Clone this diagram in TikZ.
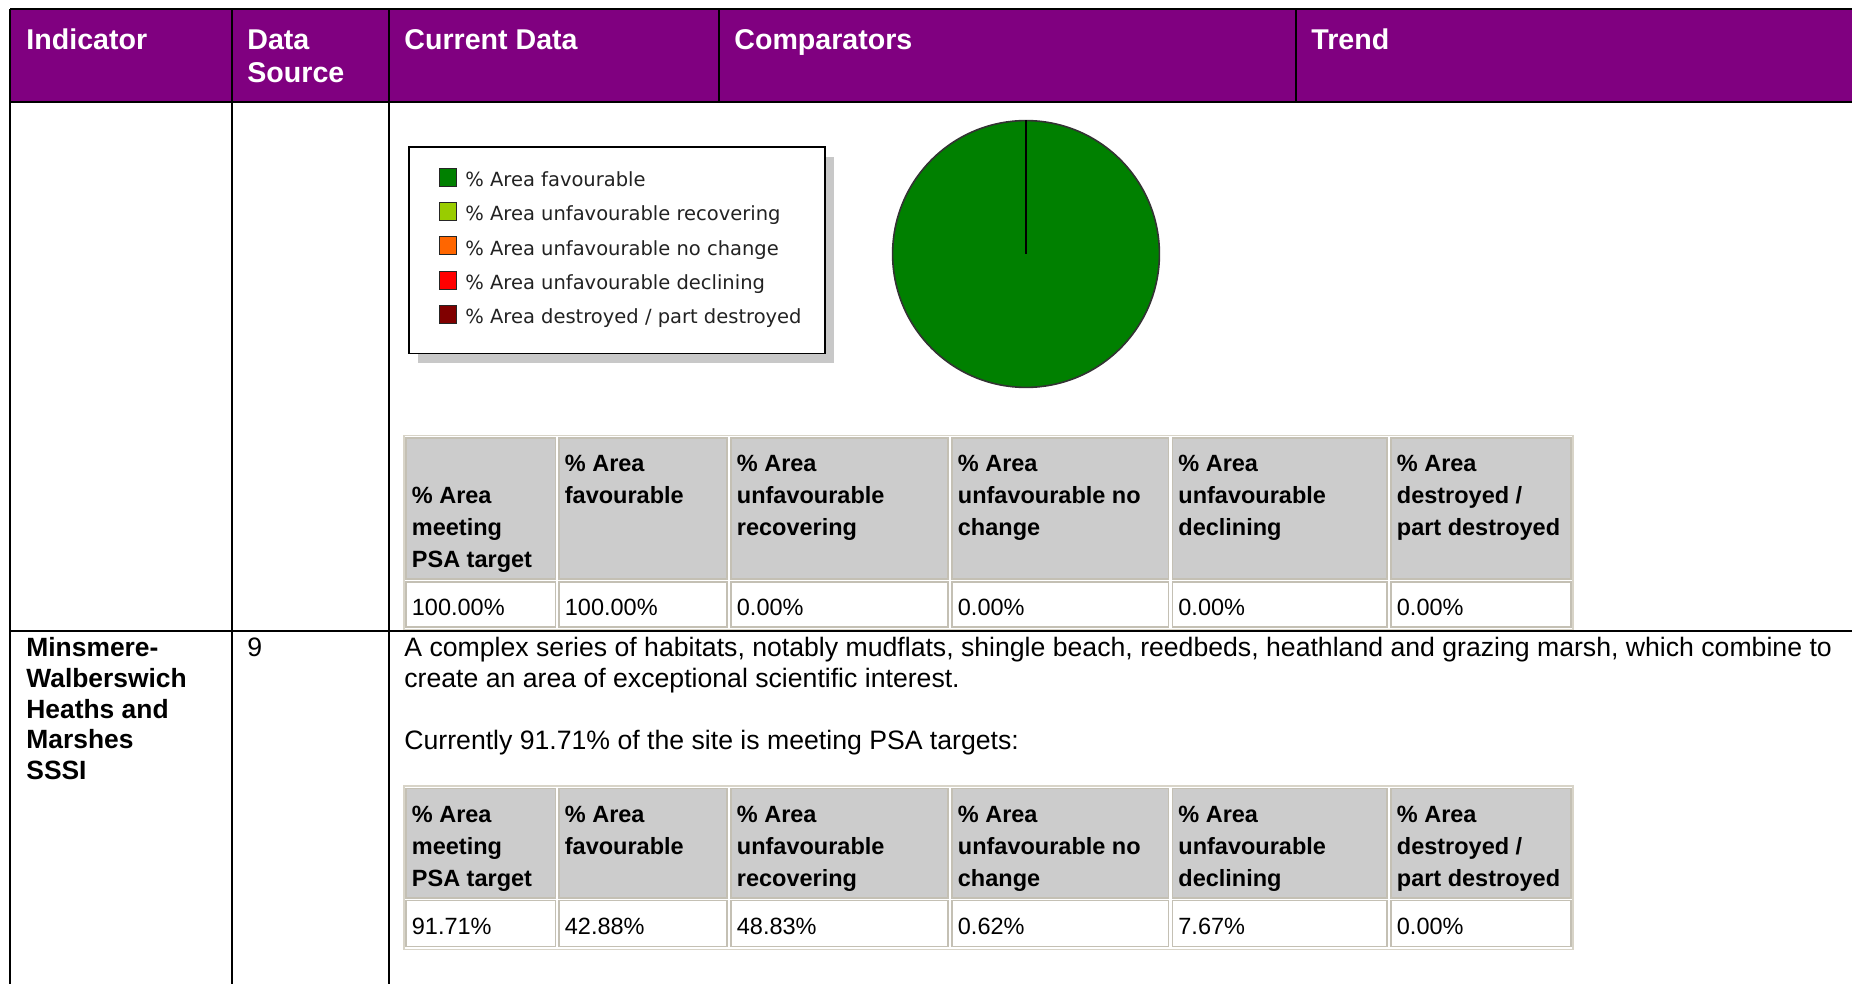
\documentclass[tikz,border=0pt]{standalone}
\usepackage{fontspec}
\setmainfont{Liberation Sans}
\newfontfamily\legfont{DejaVu Sans}
\definecolor{hdrpurple}{HTML}{800080}
\definecolor{cellgray}{HTML}{CCCCCC}
\definecolor{tabline}{HTML}{C4C0B4}
\definecolor{tabouter}{HTML}{D8D4C8}
\definecolor{shadowgray}{HTML}{C8C8C8}
\definecolor{lgA}{HTML}{008000}
\definecolor{lgB}{HTML}{99CC00}
\definecolor{lgC}{HTML}{FF6600}
\definecolor{lgD}{HTML}{FF0000}
\definecolor{lgE}{HTML}{800000}
\definecolor{legtext}{HTML}{222222}
\begin{document}
\begin{tikzpicture}[x=0.5pt,y=-0.5pt,
  hdrtext/.style={anchor=base west,inner sep=0pt,text=white,font=\fontsize{14.3}{16}\selectfont\bfseries},
  bodytext/.style={anchor=base west,inner sep=0pt,font=\fontsize{13.32}{15.4}\selectfont},
  bodybold/.style={anchor=base west,inner sep=0pt,font=\fontsize{13.2}{15.4}\selectfont\bfseries},
  tabhead/.style={anchor=base west,inner sep=0pt,font=\fontsize{11.75}{16}\selectfont\bfseries},
  tabdata/.style={anchor=base west,inner sep=0pt,font=\fontsize{11.75}{16}\selectfont},
  legtxt/.style={anchor=base west,inner sep=0pt,text=legtext,font=\legfont\fontsize{9.75}{12}\selectfont},
  legsq/.style={draw=black!85,line width=0.6pt,minimum width=8.5pt,minimum height=9pt,inner sep=0pt,anchor=south west},
  vrule/.style={draw=black,line width=0.9pt},
  thickrule/.style={draw=black,line width=1.4pt},
  hcell/.style={fill=cellgray,draw=tabline,line width=0.8pt},
  dcell/.style={fill=white,draw=tabline,line width=0.8pt},
  outer/.style={draw=tabouter,line width=0.8pt},
]
\useasboundingbox (0,0) rectangle (1852,984);

% ---------- header band ----------
\fill[hdrpurple] (10,9) rectangle (1852,102);
\draw[thickrule] (10,9) -- (1852,9);
\draw[line width=0.9pt] (10,102) -- (1208,102);
\draw[line width=1.4pt] (1208,102) -- (1852,102);
\draw[vrule] (10,9) -- (10,984);
\draw[vrule] (232,9) -- (232,984);
\draw[vrule] (389,9) -- (389,984);
\draw[line width=0.6pt] (719,9) -- (719,102);
\draw[line width=0.6pt] (1296,9) -- (1296,102);
\draw[line width=1.2pt] (10,631) -- (1852,631);

\node[hdrtext] (hind) at (26,50) {Indicator};
\node[hdrtext] (hds1) at (247,50) {Data};
\node[hdrtext] (hds2) at (247,82.3) {Source};
\node[hdrtext] (hcur) at (404,50) {Current Data};
\node[hdrtext] (hcmp) at (734,50) {Comparators};
\node[hdrtext] (htrd) at (1311,50) {Trend};

% ---------- legend ----------
\node[fill=shadowgray,minimum width=208pt,minimum height=103pt,inner sep=0pt,anchor=north west] (legshadow) at (418,156.5) {};
\node[draw=black,line width=0.8pt,fill=white,minimum width=208pt,minimum height=103pt,inner sep=0pt,anchor=north west] (legend) at (408,146.5) {};
\node[legsq,fill=lgA] (sqA) at (439,187) {};
\node[legsq,fill=lgB] (sqB) at (439,221.3) {};
\node[legsq,fill=lgC] (sqC) at (439,255.5) {};
\node[legsq,fill=lgD] (sqD) at (439,289.8) {};
\node[legsq,fill=lgE] (sqE) at (439,324) {};
\node[legtxt] (ltA) at (465,186.7) {\% Area favourable};
\node[legtxt] (ltB) at (465,221) {\% Area unfavourable recovering};
\node[legtxt] (ltC) at (465,255.2) {\% Area unfavourable no change};
\node[legtxt] (ltD) at (465,289.5) {\% Area unfavourable declining};
\node[legtxt] (ltE) at (465,323.7) {\% Area destroyed / part destroyed};

% ---------- pie ----------
\node[circle,draw=black!80,line width=0.8pt,fill=lgA,minimum size=133.4pt,inner sep=0pt] (pie) at (1026,254) {};
\draw[line width=0.8pt] (pie.center) -- (pie.north);

% ---------- table 1 ----------
\draw[outer] (404,435.5) rectangle (1573,629.5);
\foreach \a/\b in {406/555.5, 559/727, 731/948, 952/1168.5, 1172.5/1387, 1391/1571} {
  \draw[hcell] (\a,438) rectangle (\b,579);
  \draw[dcell] (\a,582) rectangle (\b,627);
}
\foreach \t [count=\i] in {\% Area, meeting, PSA target}
  \node[tabhead] (aA\i) at (411.5,{503.4+32*(\i-1)}) {\t};
\foreach \t [count=\i] in {\% Area, favourable}
  \node[tabhead] (aB\i) at (564.5,{471.4+32*(\i-1)}) {\t};
\foreach \t [count=\i] in {\% Area, unfavourable, recovering}
  \node[tabhead] (aC\i) at (736.5,{471.4+32*(\i-1)}) {\t};
\foreach \t [count=\i] in {\% Area, unfavourable no, change}
  \node[tabhead] (aD\i) at (957.5,{471.4+32*(\i-1)}) {\t};
\foreach \t [count=\i] in {\% Area, unfavourable, declining}
  \node[tabhead] (aE\i) at (1178,{471.4+32*(\i-1)}) {\t};
\foreach \t [count=\i] in {\% Area, destroyed /, part destroyed}
  \node[tabhead] (aF\i) at (1396.5,{471.4+32*(\i-1)}) {\t};
\node[tabdata] (avA) at (411.5,615.5) {100.00\%};
\node[tabdata] (avB) at (564.5,615.5) {100.00\%};
\node[tabdata] (avC) at (736.5,615.5) {0.00\%};
\node[tabdata] (avD) at (957.5,615.5) {0.00\%};
\node[tabdata] (avE) at (1178,615.5) {0.00\%};
\node[tabdata] (avF) at (1396.5,615.5) {0.00\%};

% ---------- row 2 ----------
\node[bodybold] (ind1) at (26,656.5) {Minsmere-};
\node[bodybold] (ind2) at (26,687.3) {Walberswich};
\node[bodybold] (ind3) at (26,718) {Heaths and};
\node[bodybold] (ind4) at (26,748.8) {Marshes};
\node[bodybold] (ind5) at (26,779.6) {SSSI};
\node[bodytext] (src) at (247,656.5) {9};
\node[bodytext] (par1) at (404,656.5) {A complex series of habitats, notably mudflats, shingle beach, reedbeds, heathland and grazing marsh, which combine to};
\node[bodytext] (par2) at (404,687.3) {create an area of exceptional scientific interest.};
\node[bodytext] (par3) at (404,749.5) {Currently 91.71\% of the site is meeting PSA targets:};

% ---------- table 2 ----------
\draw[outer] (404,786) rectangle (1573,949.5);
\foreach \a/\b in {406/555.5, 559/727, 731/948, 952/1168.5, 1172.5/1387, 1391/1571} {
  \draw[hcell] (\a,788.5) rectangle (\b,898);
  \draw[dcell] (\a,900.5) rectangle (\b,946.5);
}
\foreach \t [count=\i] in {\% Area, meeting, PSA target}
  \node[tabhead] (bA\i) at (411.5,{822+32*(\i-1)}) {\t};
\foreach \t [count=\i] in {\% Area, favourable}
  \node[tabhead] (bB\i) at (564.5,{822+32*(\i-1)}) {\t};
\foreach \t [count=\i] in {\% Area, unfavourable, recovering}
  \node[tabhead] (bC\i) at (736.5,{822+32*(\i-1)}) {\t};
\foreach \t [count=\i] in {\% Area, unfavourable no, change}
  \node[tabhead] (bD\i) at (957.5,{822+32*(\i-1)}) {\t};
\foreach \t [count=\i] in {\% Area, unfavourable, declining}
  \node[tabhead] (bE\i) at (1178,{822+32*(\i-1)}) {\t};
\foreach \t [count=\i] in {\% Area, destroyed /, part destroyed}
  \node[tabhead] (bF\i) at (1396.5,{822+32*(\i-1)}) {\t};
\node[tabdata] (bvA) at (411.5,934) {91.71\%};
\node[tabdata] (bvB) at (564.5,934) {42.88\%};
\node[tabdata] (bvC) at (736.5,934) {48.83\%};
\node[tabdata] (bvD) at (957.5,934) {0.62\%};
\node[tabdata] (bvE) at (1178,934) {7.67\%};
\node[tabdata] (bvF) at (1396.5,934) {0.00\%};
\end{tikzpicture}
\end{document}
